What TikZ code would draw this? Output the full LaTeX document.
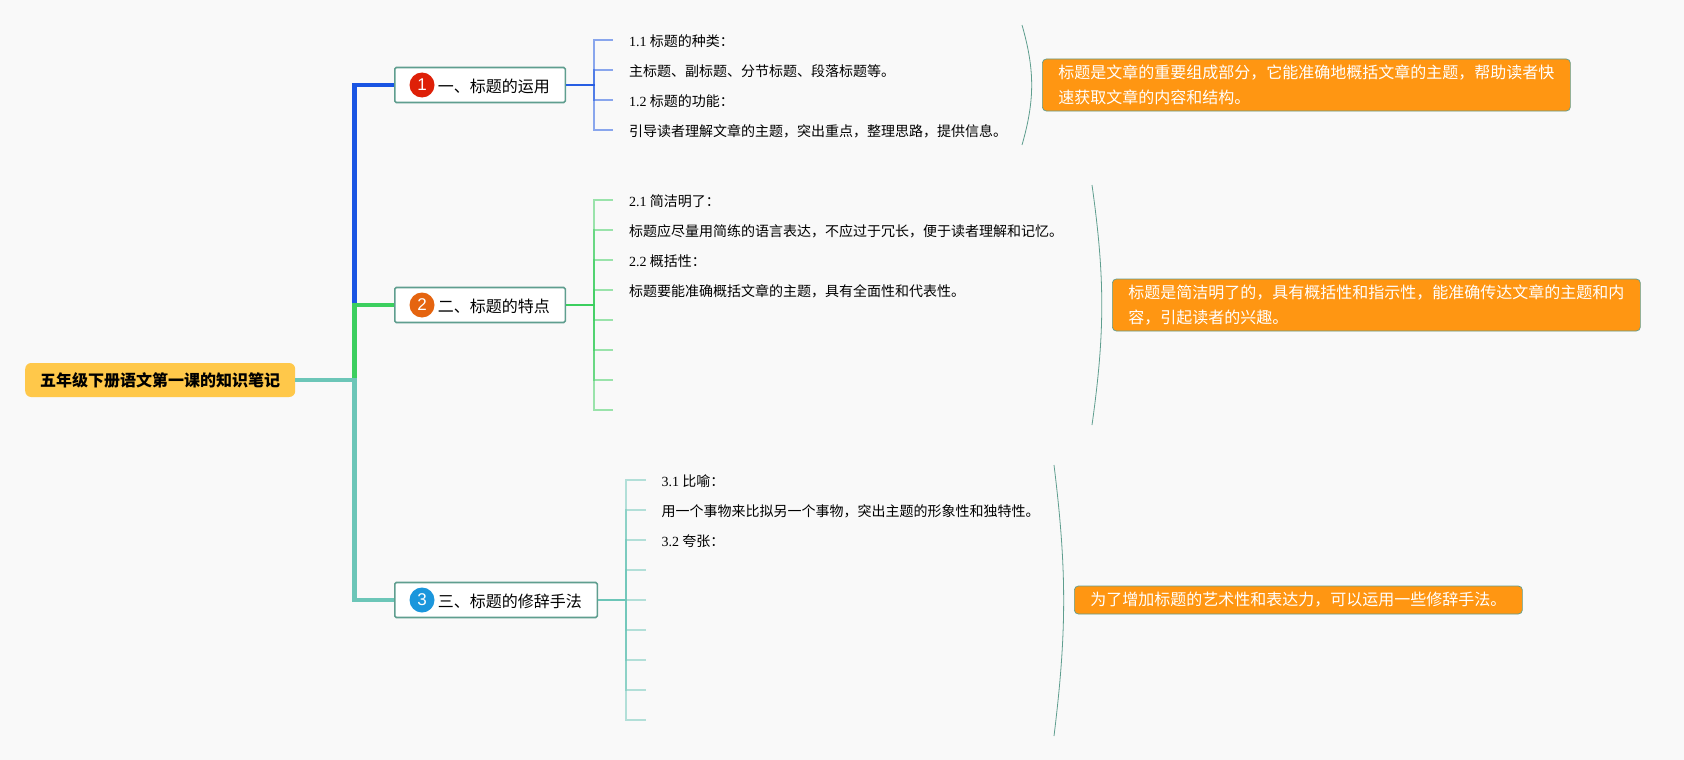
\documentclass[tikz,border=0pt]{standalone}
\usepackage{fontspec}
\usepackage{xcolor}
\setmainfont{Noto Sans CJK SC}
\newfontfamily\numfont{Liberation Serif}
\newfontfamily\badgefont{Liberation Sans}
\definecolor{paper}{HTML}{F9F9F9}
\definecolor{rootfill}{HTML}{FFC84A}
\definecolor{frame}{HTML}{5F9E8F}
\definecolor{noteorange}{HTML}{FF9612}
\definecolor{lineblue}{HTML}{1A55E3}
\definecolor{linegreen}{HTML}{3CCF5F}
\definecolor{lineteal}{HTML}{6CC6B8}
\definecolor{badgered}{HTML}{DE2008}
\definecolor{badgeorange}{HTML}{E5640F}
\definecolor{badgeblue}{HTML}{1B96DC}

\begin{document}
\begin{tikzpicture}%
                [x={(1pt, 0pt)},
                y={(0pt, -1pt)},
                root/.style={anchor=west,draw=none,fill=rootfill,rounded corners=6pt,inner xsep=15pt,inner ysep=0pt,minimum height=34pt,font=\fontsize{16}{20}\selectfont\bfseries},
                topic/.style={anchor=west,draw=frame,line width=1.6pt,fill=white,rounded corners=1.5pt,inner xsep=15.5pt,inner ysep=0pt,minimum height=35pt,text height=16pt,text depth=1.8pt,font=\fontsize{16}{20}\selectfont},
                badge/.style={circle,inner sep=0pt,minimum size=25pt,text=white,font=\fontsize{17}{20}\selectfont\badgefont},
                leaf/.style={anchor=west,inner xsep=16pt,inner ysep=0pt,text height=14pt,text depth=1.4pt,font=\fontsize{14}{18}\selectfont},
                note/.style={anchor=west,draw=frame,line width=0.7pt,fill=noteorange,text=white,rounded corners=4pt,inner xsep=16pt,inner ysep=0pt,align=left,font=\fontsize{16}{24.5}\selectfont},
                trunk/.style={line width=4.5pt},
                twig/.style={line width=1.7pt,draw opacity=0.5},
                brace/.style={draw=frame,line width=0.8pt}]

            %% Drawing the paper
            \fill[paper] (0,0) rectangle (1684,760);

            %% Drawing the nodes
            \node[root] (root) at (25,380) {五年级下册语文第一课的知识笔记};
            \node[topic] (box1) at (394,85) {\hspace{27.5pt}一、标题的运用};
            \node[topic] (box2) at (394,305) {\hspace{27.5pt}二、标题的特点};
            \node[topic] (box3) at (394,600) {\hspace{27.5pt}三、标题的修辞手法};
            \node[badge,fill=badgered] (badge1) at ([xshift=28pt]box1.west) {1};
            \node[badge,fill=badgeorange] (badge2) at ([xshift=28pt]box2.west) {2};
            \node[badge,fill=badgeblue] (badge3) at ([xshift=28pt]box3.west) {3};

            %% Drawing the trunk
            \coordinate (hub) at (354.5,380);
            \draw[trunk,color=lineblue] (root.east) -- (hub) |- (box1.west);
            \draw[trunk,color=linegreen] (root.east) -- (hub) |- (box2.west);
            \draw[trunk,color=lineteal] (root.east) -- (hub) |- (box3.west);

            %% Drawing the leaves
            \coordinate (bus1) at (594,85);
            \coordinate (bus2) at (594,305);
            \coordinate (bus3) at (626,600);
            \foreach \name/\ypos/\txt in {leafa1/40/{{\numfont 1.1} 标题的种类：},
                                          leafa2/70/{主标题、副标题、分节标题、段落标题等。},
                                          leafa3/100/{{\numfont 1.2} 标题的功能：},
                                          leafa4/130/{引导读者理解文章的主题，突出重点，整理思路，提供信息。}} {
                \node[leaf] (\name) at (613,\ypos) {\txt};
                \draw[twig,color=lineblue] (box1.east) -- (bus1) |- (\name.west);
            }
            \foreach \name/\ypos/\txt in {leafb1/200/{{\numfont 2.1} 简洁明了：},
                                          leafb2/230/{标题应尽量用简练的语言表达，不应过于冗长，便于读者理解和记忆。},
                                          leafb3/260/{{\numfont 2.2} 概括性：},
                                          leafb4/290/{标题要能准确概括文章的主题，具有全面性和代表性。}} {
                \node[leaf] (\name) at (613,\ypos) {\txt};
                \draw[twig,color=linegreen] (box2.east) -- (bus2) |- (\name.west);
            }
            \foreach \name/\ypos in {leafb5/320,leafb6/350,leafb7/380,leafb8/410} {
                \coordinate (\name) at (613,\ypos);
                \draw[twig,color=linegreen] (box2.east) -- (bus2) |- (\name);
            }
            \foreach \name/\ypos/\txt in {leafc1/480/{{\numfont 3.1} 比喻：},
                                          leafc2/510/{用一个事物来比拟另一个事物，突出主题的形象性和独特性。},
                                          leafc3/540/{{\numfont 3.2} 夸张：}} {
                \node[leaf] (\name) at (645.5,\ypos) {\txt};
                \draw[twig,color=lineteal] (box3.east) -- (bus3) |- (\name.west);
            }
            \foreach \name/\ypos in {leafc4/570,leafc5/600,leafc6/630,leafc7/660,leafc8/690,leafc9/720} {
                \coordinate (\name) at (645.5,\ypos);
                \draw[twig,color=lineteal] (box3.east) -- (bus3) |- (\name);
            }

            %% Drawing the summaries
            \coordinate (bracea1) at (1022,25);
            \coordinate (bracea2) at (1022,145);
            \coordinate (braceb1) at (1092,185);
            \coordinate (braceb2) at (1092,425);
            \coordinate (bracec1) at (1054,465);
            \coordinate (bracec2) at (1054,736);
            \draw[brace] (bracea1) to[bend left=16] (bracea2);
            \draw[brace] (braceb1) to[bend left=8] (braceb2);
            \draw[brace] (bracec1) to[bend left=7] (bracec2);
            \node[note,minimum height=52pt] (notea) at (1042,85) {标题是文章的重要组成部分，它能准确地概括文章的主题，帮助读者快\\速获取文章的内容和结构。};
            \node[note,minimum height=52pt] (noteb) at (1112,305) {标题是简洁明了的，具有概括性和指示性，能准确传达文章的主题和内\\容，引起读者的兴趣。};
            \node[note,minimum height=28pt] (notec) at (1074,600) {为了增加标题的艺术性和表达力，可以运用一些修辞手法。};
            %%
            \end{tikzpicture}
\end{document}
